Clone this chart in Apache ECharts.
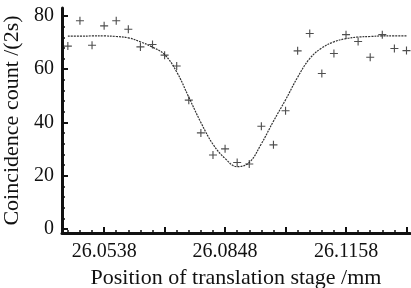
<!DOCTYPE html>
<html>
<head>
<meta charset="utf-8">
<script src="https://cdn.jsdelivr.net/npm/echarts@6/dist/echarts.min.js"></script>
<style>
  html, body { margin: 0; padding: 0; background: #fff; }
  #chart { width: 411px; height: 288px; }
</style>
</head>
<body>
<div id="chart"></div>
<script>
// stage positions (mm), one per measurement
const positions = [
  26.0445, 26.0476, 26.0507, 26.0538, 26.0569, 26.0600, 26.0631, 26.0662, 26.0693, 26.0724,
  26.0755, 26.0786, 26.0817, 26.0848, 26.0879, 26.0910, 26.0941, 26.0972, 26.1003, 26.1034,
  26.1065, 26.1096, 26.1127, 26.1158, 26.1189, 26.1220, 26.1251, 26.1282, 26.1313
];
// measured coincidence counts (+ marks)
const counts = [
  68.7, 78.2, 69.0, 76.3, 78.2, 75.0, 68.4, 69.3, 65.3, 61.2,
  48.4, 36.1, 27.8, 30.1, 25.0, 24.4, 38.6, 31.6, 44.4, 66.9,
  73.4, 58.4, 65.9, 73.0, 70.4, 64.5, 73.0, 67.8, 67.0
];
// fitted curve at the same positions
const fitCurve = [
  72.4, 72.4, 72.5, 72.5, 72.3, 71.8, 70.3, 68.3, 65.5, 59.0,
  49.5, 40.0, 31.8, 26.5, 23.4, 25.0, 32.0, 40.5, 48.5, 57.0,
  64.0, 68.0, 70.3, 71.5, 72.1, 72.3, 72.5, 72.5, 72.5
];
const majorTicks = [26.0538, 26.0693, 26.0848, 26.1003, 26.1158, 26.1313];
const xLabels = [26.0538, 26.0848, 26.1158];
const yTicks = [0, 20, 40, 60, 80];
const yMinorTicks = [0, 4, 8, 12, 16, 20, 24, 28, 32, 36, 40, 44, 48, 52, 56, 60, 64, 68, 72, 76, 80];

const xMin = 26.0430, xMax = 26.1322;
const font = 'Liberation Serif';
const ink = '#111';

let chart = echarts.init(document.getElementById('chart'), null, { renderer: 'canvas' });

chart.setOption({
  animation: false,
  backgroundColor: '#fff',
  grid: { left: 62, right: 1, top: 8, bottom: 55, outerBoundsMode: 'none', containLabel: false },
  xAxis: [
    {
      type: 'value', min: xMin, max: xMax,
      name: 'Position of translation stage /mm',
      nameLocation: 'middle', nameGap: 31,
      nameTextStyle: { fontFamily: font, fontSize: 22, color: ink },
      axisLine: { show: true, onZero: false, lineStyle: { color: ink, width: 3 } },
      axisTick: { show: true, inside: true, length: 6, customValues: majorTicks, lineStyle: { color: ink, width: 2 } },
      axisLabel: {
        customValues: xLabels, margin: 9,
        fontFamily: font, fontSize: 20, color: ink,
        formatter: v => v.toFixed(4)
      },
      splitLine: { show: false }
    },
    {
      type: 'value', min: xMin, max: xMax, position: 'bottom',
      axisLine: { show: false, onZero: false },
      axisTick: { show: true, inside: true, length: 3, customValues: positions, lineStyle: { color: ink, width: 1.5 } },
      axisLabel: { show: false },
      splitLine: { show: false }
    }
  ],
  yAxis: [
    {
      type: 'value', min: -1.5, max: 83,
      name: 'Coincidence count /(2s)',
      nameLocation: 'middle', nameGap: 38,
      nameTextStyle: { fontFamily: font, fontSize: 22, color: ink },
      axisLine: { show: true, onZero: false, lineStyle: { color: ink, width: 3 } },
      axisTick: { show: true, inside: true, length: 6, customValues: yTicks, lineStyle: { color: ink, width: 2 } },
      axisLabel: { customValues: yTicks, margin: 8, fontFamily: font, fontSize: 20, color: ink },
      splitLine: { show: false }
    },
    {
      type: 'value', min: -1.5, max: 83, position: 'left',
      axisLine: { show: false, onZero: false },
      axisTick: { show: true, inside: true, length: 3, customValues: yMinorTicks, lineStyle: { color: ink, width: 1.5 } },
      axisLabel: { show: false },
      splitLine: { show: false }
    }
  ],
  series: [
    {
      name: 'fit',
      type: 'line',
      smooth: 0.4,
      showSymbol: false,
      data: positions.map((x, i) => [x, fitCurve[i]]),
      lineStyle: { color: '#333', width: 1.2, type: [2, 1] },
      z: 2
    },
    {
      name: 'measured',
      type: 'scatter',
      symbol: 'path://M4.3 0H5.7V4.3H10V5.7H5.7V10H4.3V5.7H0V4.3H4.3Z',
      symbolSize: 8,
      data: positions.map((x, i) => [x, counts[i]]),
      itemStyle: { color: '#222' },
      z: 3
    }
  ]
});
</script>
</body>
</html>
